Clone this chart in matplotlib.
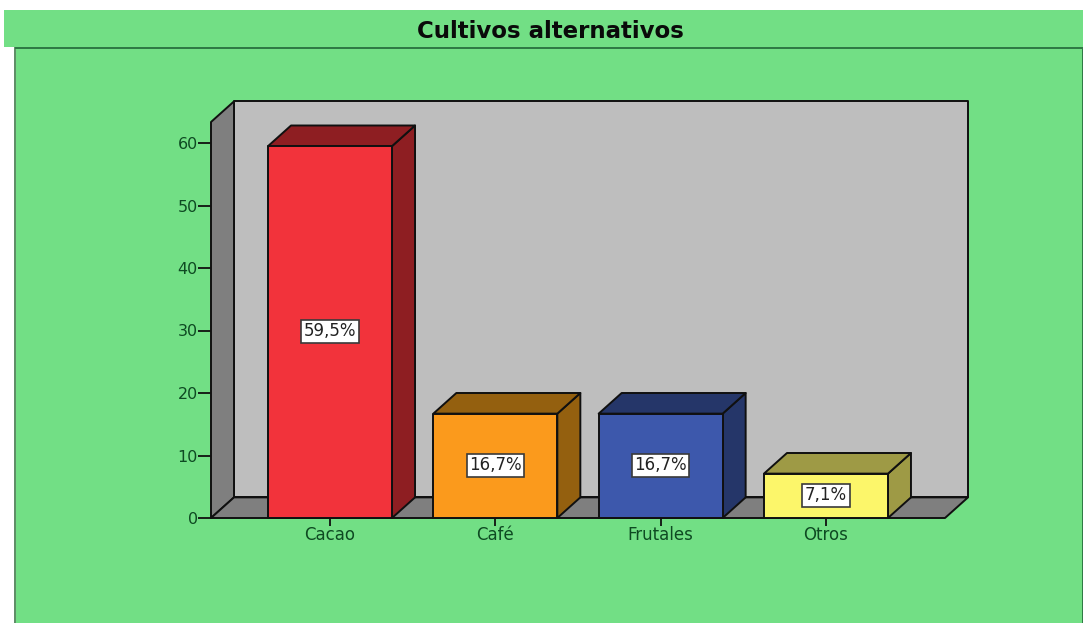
import matplotlib
matplotlib.use('Agg')
import matplotlib.pyplot as plt
from matplotlib.patches import Polygon, Rectangle

categories = ['Cacao', 'Café', 'Frutales', 'Otros']
percent = [59.5, 16.7, 16.7, 7.1]
percent_labels = ['59,5%', '16,7%', '16,7%', '7,1%']
front_colors = ['#F2333B', '#FB9A1C', '#3D58AC', '#FCF66A']
side_colors = ['#8E1E22', '#94600F', '#253669', '#9E9A45']
y_ticks = [0, 10, 20, 30, 40, 50, 60]

W, H = 1083, 623
GREEN = '#72DF85'
EDGE = '#101010'
TEXT = '#0E4A22'

plt.rcParams['font.family'] = ['DejaVu Sans']

fig = plt.figure(figsize=(W / 100, H / 100), dpi=100, facecolor='white')


def fig_rect(x0, y0, x1, y1, **kw):
    # pixel box, y measured from the top of the picture
    fig.add_artist(Rectangle((x0 / W, 1 - y1 / H), (x1 - x0) / W, (y1 - y0) / H,
                             transform=fig.transFigure, zorder=-5, **kw))


# green panel and the title band
fig_rect(15, 47, W, H, facecolor=GREEN, edgecolor='none')
fig_rect(14, 47, 16, H, facecolor='#5F8F68', edgecolor='none')
fig_rect(W - 1.5, 47, W, H, facecolor='#2F7A45', edgecolor='none')
fig_rect(4, 10, W, 47, facecolor=GREEN, edgecolor='none')
fig_rect(15, 47, W, 48.5, facecolor='#2F7A45', edgecolor='none')
fig.text(550 / W, 1 - 31 / H, 'Cultivos alternativos', ha='center', va='center',
         fontsize=16.5, fontweight='bold', color='#0A0A0A')

ax = fig.add_axes([211 / W, 1 - 518 / H, 734 / W, 396 / H])
ax.patch.set_visible(False)
ax.set_xlim(-0.72, 3.72)
ax.set_ylim(0, 63.36)
xmin, xmax = ax.get_xlim()
ymin, ymax = ax.get_ylim()

# offset of the back plane, in data units
dx = 23 / 165.3
dy = 3.3
bar_w = 0.75


def poly(pts, color, z):
    ax.add_patch(Polygon(pts, closed=True, facecolor=color, edgecolor=EDGE,
                         linewidth=1.4, joinstyle='round', clip_on=False, zorder=z))


# box walls
poly([(xmin + dx, ymin + dy), (xmax + dx, ymin + dy), (xmax + dx, ymax + dy), (xmin + dx, ymax + dy)], '#BEBEBE', 1)
poly([(xmin, ymin), (xmin + dx, ymin + dy), (xmin + dx, ymax + dy), (xmin, ymax)], '#7F7F7F', 2)
poly([(xmin, ymin), (xmax, ymin), (xmax + dx, ymin + dy), (xmin + dx, ymin + dy)], '#7F7F7F', 2)

# bars
for i, v in enumerate(percent):
    x0, x1 = i - bar_w / 2, i + bar_w / 2
    poly([(x1, 0), (x1 + dx, dy), (x1 + dx, v + dy), (x1, v)], side_colors[i], 3)
    poly([(x0, v), (x1, v), (x1 + dx, v + dy), (x0 + dx, v + dy)], side_colors[i], 3)
    poly([(x0, 0), (x1, 0), (x1, v), (x0, v)], front_colors[i], 4)
    ax.text(i, v / 2 + 0.1, percent_labels[i], ha='center', va='center', fontsize=12,
            color='#222222', zorder=5,
            bbox=dict(boxstyle='square,pad=0.15', facecolor='white', edgecolor='#3A3A3A', linewidth=1.2))

for s in ax.spines.values():
    s.set_visible(False)
ax.set_xticks(range(len(categories)))
ax.set_xticklabels(categories)
ax.set_yticks(y_ticks)
ax.tick_params(axis='x', length=5.5, width=1.3, color=EDGE, labelcolor=TEXT, labelsize=12, pad=0.5)
ax.tick_params(axis='y', length=9.5, width=1.3, color=EDGE, labelcolor=TEXT, labelsize=11.5, pad=0)

fig.savefig('out.png', dpi=100)
